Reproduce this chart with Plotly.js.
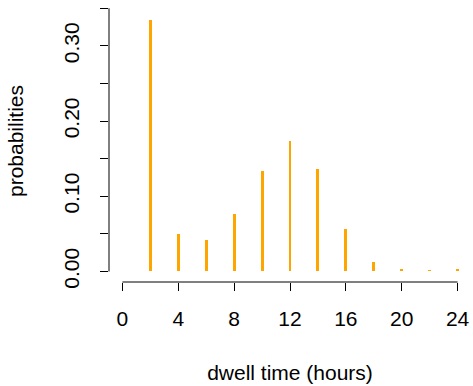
<!DOCTYPE html>
<html><head><meta charset="utf-8">
<script src="https://cdn.plot.ly/plotly-3.0.1.min.js"></script>
<style>html,body{margin:0;padding:0;background:#fff}#chart{width:473px;height:386px}</style>
</head><body><div id="chart"></div>
<script>
const hours = [2, 4, 6, 8, 10, 12, 14, 16, 18, 20, 22, 24];
const probabilities = [0.334, 0.050, 0.042, 0.076, 0.134, 0.173, 0.136, 0.056, 0.012, 0.003, 0.002, 0.003];
const xTicks = [0, 4, 8, 12, 16, 20, 24];
const yTicks = [0, 0.05, 0.10, 0.15, 0.20, 0.25, 0.30, 0.35];
const yTickLabels = ["0.00", "", "0.10", "", "0.20", "", "0.30", ""];

const font = {family: "Liberation Sans, Arial, Helvetica, sans-serif", size: 21, color: "#000"};
const data = [{
  type: "bar", x: hours, y: probabilities, width: 0.21,
  marker: {color: "#FFA500", line: {width: 0}}, hoverinfo: "skip"
}];
const layout = {
  width: 473, height: 386,
  margin: {l: 109, r: 2, t: 0, b: 104},
  paper_bgcolor: "#fff", plot_bgcolor: "#fff",
  font: font, showlegend: false, bargap: 0,
  xaxis: {
    range: [-0.96, 24.96], tickvals: xTicks, ticktext: xTicks.map(String),
    ticks: "outside", ticklen: 8, tickwidth: 1, tickcolor: "#000",
    showline: false, showgrid: false, zeroline: false,
    ticklabelstandoff: 10,
    title: {text: "dwell time (hours)", font: font, standoff: 36}
  },
  yaxis: {
    range: [-0.014, 0.361], tickvals: yTicks, ticktext: yTickLabels,
    ticks: "outside", ticklen: 8, tickwidth: 1, tickcolor: "#000",
    tickangle: -90,
    showline: false, showgrid: false, zeroline: false,
    ticklabelstandoff: 13,
    title: {text: "probabilities", font: font, standoff: 30}
  },
  shapes: [
    {type: "line", xref: "x", yref: "paper", x0: xTicks[0], x1: xTicks[xTicks.length-1], y0: 0, y1: 0, line: {color: "#000", width: 1}},
    {type: "line", xref: "paper", yref: "y", x0: 0, x1: 0, y0: yTicks[0], y1: yTicks[yTicks.length-1], line: {color: "#000", width: 1}}
  ]
};
Plotly.newPlot("chart", data, layout, {staticPlot: true, displayModeBar: false});
</script></body></html>
